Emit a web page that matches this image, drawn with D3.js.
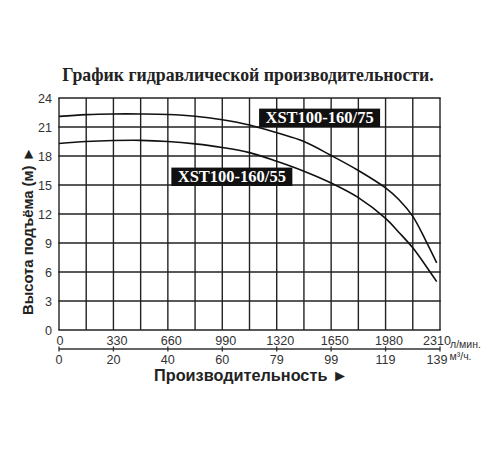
<!DOCTYPE html>
<html>
<head>
<meta charset="utf-8">
<script src="https://cdn.jsdelivr.net/npm/d3@7"></script>
<style>
    body { margin: 0; background: #fff; }
    svg { display: block; }
</style>
</head>
<body>
<svg id="chart" width="500" height="450"></svg>
<script>

// Data (flow in l/min, head in m)
const flow75 = [0, 165, 330, 495, 660, 825, 990, 1155, 1320, 1485, 1650, 1815, 1980, 2060, 2145, 2225, 2290];
const head75 = [22.1, 22.28, 22.35, 22.35, 22.3, 22.12, 21.75, 21.2, 20.4, 19.5, 18.05, 16.5, 14.7, 13.5, 11.75, 9.2, 6.95];
const flow55 = [0, 165, 330, 495, 660, 825, 990, 1155, 1320, 1485, 1650, 1815, 1980, 2060, 2145, 2250, 2290];
const head55 = [19.3, 19.5, 19.6, 19.62, 19.5, 19.25, 18.88, 18.35, 17.45, 16.42, 15.2, 13.69, 11.55, 10.12, 8.5, 6.0, 5.0];
const seriesNames = ["XST100-160/75", "XST100-160/55"];

const flowTicksLpm = [0, 330, 660, 990, 1320, 1650, 1980, 2310];
const flowTicksM3h = [0, 20, 40, 60, 79, 99, 119, 139];
const headTicks = [0, 3, 6, 9, 12, 15, 18, 21, 24];

const titleText = "График гидравлической производительности.";
const yTitle = "Высота подъёма (м) ►";
const xTitle = "Производительность ►";

// Layout
const plot = {left: 59, right: 440, top: 98, bottom: 330};
const gridStep = 165;
const serif = "'Liberation Serif', 'Times New Roman', serif";
const sans = "'Liberation Sans', Arial, sans-serif";

const svg = d3.select("#chart");

const x = d3.scaleLinear().domain([0, 2310]).range([plot.left, plot.right]);
const y = d3.scaleLinear().domain([0, 24]).range([plot.bottom, plot.top]);

// Title
svg.append("text")
    .attr("x", 248)
    .attr("y", 81)
    .attr("text-anchor", "middle")
    .style("font-family", serif)
    .style("font-weight", "bold")
    .style("font-size", "17.8px")
    .attr("fill", "#222")
    .text(titleText);

// Grid
const grid = svg.append("g").attr("stroke", "#222").attr("stroke-width", 1.4);
grid.selectAll(".v")
    .data(d3.range(0, 2310 + 1, gridStep))
    .enter().append("line")
    .attr("x1", d => x(d)).attr("x2", d => x(d))
    .attr("y1", plot.top).attr("y2", plot.bottom);
grid.selectAll(".h")
    .data(headTicks)
    .enter().append("line")
    .attr("x1", plot.left - 0.7).attr("x2", plot.right + 0.7)
    .attr("y1", d => y(d)).attr("y2", d => y(d));

// Y tick labels
svg.append("g").selectAll("text")
    .data(headTicks)
    .enter().append("text")
    .attr("x", 52)
    .attr("y", d => y(d))
    .attr("dy", "0.36em")
    .attr("text-anchor", "end")
    .style("font-family", sans)
    .style("font-size", "12.6px")
    .attr("fill", "#333")
    .text(d => d);

// Flow axes (l/min on top row, m3/h below)
const axisY = 349;
const lastTick = flowTicksLpm.length - 1;
svg.append("line")
    .attr("x1", x(0)).attr("x2", x(2310))
    .attr("y1", axisY).attr("y2", axisY)
    .attr("stroke", "#333").attr("stroke-width", 1.3);
svg.append("g").selectAll("line")
    .data(flowTicksLpm)
    .enter().append("line")
    .attr("x1", d => x(d)).attr("x2", d => x(d))
    .attr("y1", axisY - 2.5).attr("y2", axisY + 2.5)
    .attr("stroke", "#333").attr("stroke-width", 1.3);
svg.append("g").selectAll("text")
    .data(flowTicksLpm)
    .enter().append("text")
    .attr("x", d => x(d))
    .attr("dx", (d, i) => i === 0 ? 1 : (i === lastTick ? -3 : 3.5))
    .attr("y", 345)
    .attr("text-anchor", "middle")
    .style("font-family", sans)
    .style("font-size", "12.6px")
    .attr("fill", "#333")
    .text(d => d);
svg.append("g").selectAll("text")
    .data(flowTicksM3h)
    .enter().append("text")
    .attr("x", (d, i) => x(flowTicksLpm[i]))
    .attr("dx", (d, i) => i === lastTick ? -3 : 0)
    .attr("y", 363.5)
    .attr("text-anchor", "middle")
    .style("font-family", sans)
    .style("font-size", "12.6px")
    .attr("fill", "#333")
    .text(d => d);
svg.append("text")
    .attr("x", 450).attr("y", 347.5)
    .style("font-family", sans).style("font-size", "10.5px").attr("fill", "#333")
    .text("л/мин.");
svg.append("text")
    .attr("x", 449.5).attr("y", 359.5)
    .style("font-family", sans).style("font-size", "10.5px").attr("fill", "#333")
    .text("м³/ч.");

// Axis titles
svg.append("text")
    .attr("x", 251).attr("y", 380.5)
    .attr("text-anchor", "middle")
    .attr("textLength", 194)
    .attr("lengthAdjust", "spacingAndGlyphs")
    .style("font-family", sans).style("font-weight", "bold").style("font-size", "16px")
    .attr("fill", "#222")
    .text(xTitle);
svg.append("text")
    .attr("transform", `translate(33.3, 231) rotate(-90)`)
    .attr("text-anchor", "middle")
    .attr("textLength", 168)
    .attr("lengthAdjust", "spacingAndGlyphs")
    .style("font-family", sans).style("font-weight", "bold").style("font-size", "15px")
    .attr("fill", "#222")
    .text(yTitle);

// Curves
const line = d3.line()
    .x(d => x(d[0]))
    .y(d => y(d[1]))
    .curve(d3.curveCatmullRom.alpha(0.5));
[[flow75, head75], [flow55, head55]].forEach(([flows, heads]) => {
    svg.append("path")
        .datum(flows.map((q, i) => [q, heads[i]]))
        .attr("d", line)
        .attr("fill", "none")
        .attr("stroke", "#111")
        .attr("stroke-width", 1.6);
});

// Series labels (box centre in data units)
const labelAnchors = [[1580, 21.95], [1048, 15.85]];
seriesNames.forEach((name, i) => {
    const cx = x(labelAnchors[i][0]), cy = y(labelAnchors[i][1]);
    const g = svg.append("g");
    g.append("rect")
        .attr("x", cx - 60.5).attr("y", cy - 9.2)
        .attr("width", 121).attr("height", 18.4)
        .attr("fill", "#111");
    g.append("text")
        .attr("x", cx).attr("y", cy)
        .attr("dy", "0.34em")
        .attr("text-anchor", "middle")
        .style("font-family", serif).style("font-weight", "bold").style("font-size", "16.5px")
        .attr("fill", "#fff")
        .text(name);
});

</script>
</body>
</html>
